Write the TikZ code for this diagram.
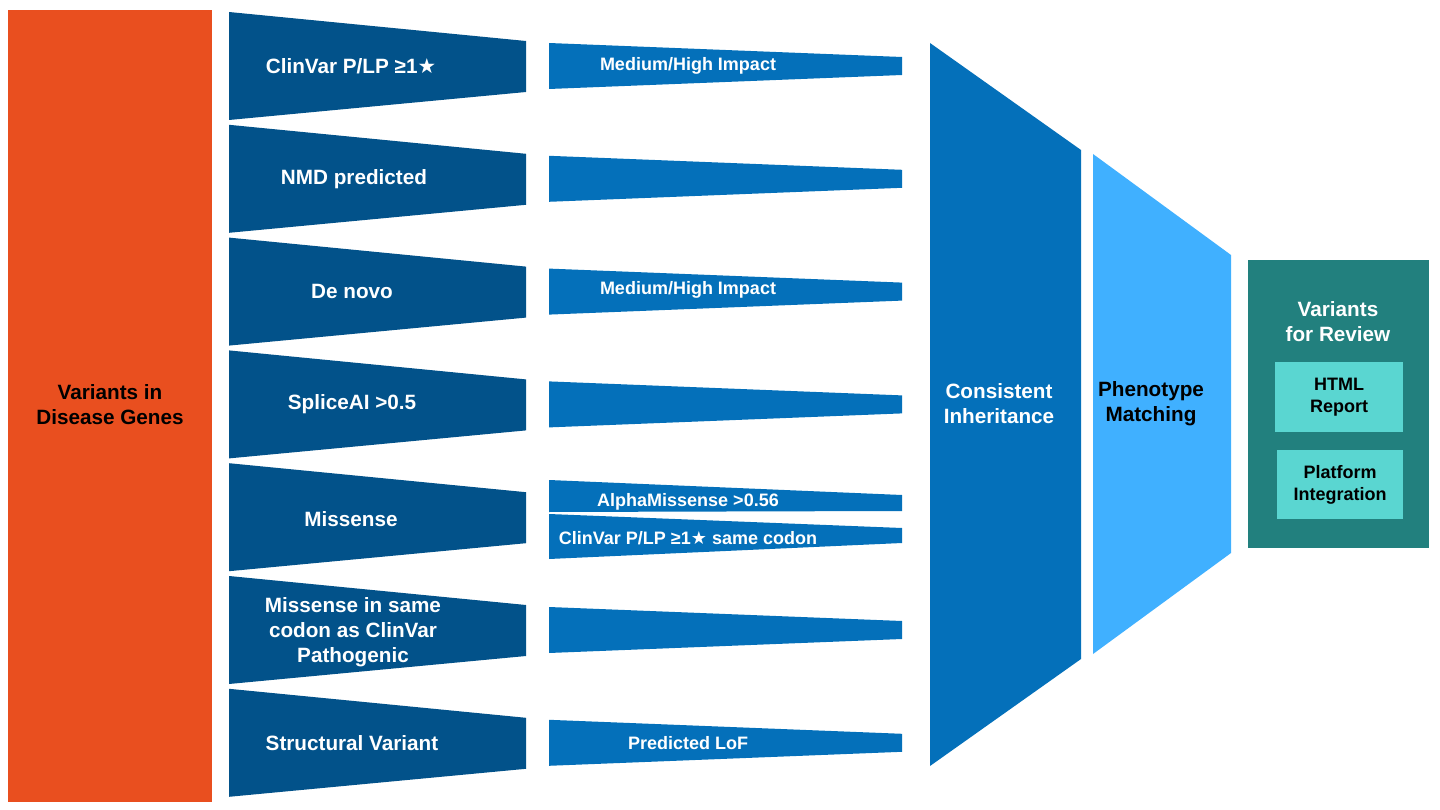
\documentclass[tikz,border=0pt]{standalone}
\usepackage{fontspec}
\setmainfont{Liberation Sans}
\newfontfamily\symfont{DejaVu Sans}
\usetikzlibrary{positioning}
\definecolor{varorange}{HTML}{E94F1F}
\definecolor{filterblue}{HTML}{02528A}
\definecolor{midblue}{HTML}{0470BA}
\definecolor{skyblue}{HTML}{40B0FF}
\definecolor{reviewteal}{HTML}{22807E}
\definecolor{reportaqua}{HTML}{5AD6D1}
\newcommand{\bstar}{{\symfont\bfseries ★}}

\begin{document}
\begin{tikzpicture}[x=1pt,y=-1pt,
every node/.style={font=\bfseries\fontsize{20.7}{25}\selectfont,text=white,align=center},
small/.style={font=\bfseries\fontsize{18}{22}\selectfont}]
\useasboundingbox (0,0) rectangle (1440,810);

% source
\fill[varorange] (8,10) rectangle (212,802);
\node[text=black] (genes) at (110,405) {Variants in\\Disease Genes};

% filters
\foreach \i in {0,...,6}{
  \pgfmathsetmacro{\t}{12+112.8*\i}
  \fill[filterblue] (229,\t) -- (526,\t+29) -- (526,\t+80) -- (229,\t+108) -- cycle;
}
\foreach \i in {0,1,2,3,5,6}{
  \pgfmathsetmacro{\c}{66+112.8*\i}
  \fill[midblue] (549,\c-23) -- (902,\c-9) -- (902,\c+9) -- (549,\c+23) -- cycle;
}
\fill[midblue] (549,480) -- (902,495) -- (902,511) -- (549,512) -- cycle;
\fill[midblue] (549,514) -- (902,528) -- (902,543) -- (549,559) -- cycle;

\node (clinvar) at (351,66) {ClinVar P/LP ≥1\bstar};
\node (nmd) at (354,178.8) {NMD predicted};
\node (denovo) at (352,291.6) {De novo};
\node (splice) at (352,404.4) {SpliceAI >0.5};
\node (missense) at (351,519) {Missense};
\node (codon) at (353,632) {Missense in same\\codon as ClinVar\\Pathogenic};
\node (sv) at (352,743) {Structural Variant};

\node[small] (impact1) at (688,66) {Medium/High Impact};
\node[small] (impact2) at (688,290) {Medium/High Impact};
\node[small] (alpha) at (688,502) {AlphaMissense >0.56};
\node[small] (samecodon) at (688,538) {ClinVar P/LP ≥1\bstar{} same codon};
\node[small] (lof) at (688,743) {Predicted LoF};

% funnels
\fill[midblue] (930,43) -- (1081,150) -- (1081,659) -- (930,766) -- cycle;
\node (inherit) at (999,404) {Consistent\\Inheritance};
\fill[skyblue] (1093,154) -- (1231,255) -- (1231,553) -- (1093,654) -- cycle;
\node[text=black] (pheno) at (1151,404) {Phenotype\\Matching};

% output
\fill[reviewteal] (1248,260) rectangle (1429,548);
\node (review) at (1338,322) {Variants\\for Review};
\fill[reportaqua] (1275,362) rectangle (1403,432);
\node[text=black,small] (html) at (1339,397) {HTML\\Report};
\fill[reportaqua] (1277,450) rectangle (1403,519);
\node[text=black,small] (platform) at (1340,485) {Platform\\Integration};
\end{tikzpicture}
\end{document}
